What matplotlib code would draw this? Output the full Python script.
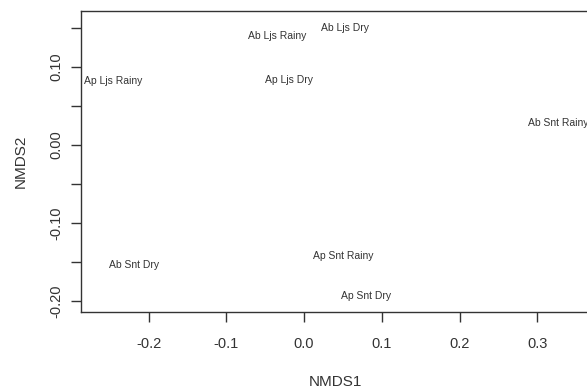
import matplotlib.pyplot as plt

# NMDS site scores
sites = ["Ap Ljs Rainy", "Ab Ljs Rainy", "Ab Ljs Dry", "Ap Ljs Dry",
         "Ab Snt Rainy", "Ab Snt Dry", "Ap Snt Rainy", "Ap Snt Dry"]
nmds1 = [-0.246, -0.035, 0.053, -0.019, 0.327, -0.219, 0.051, 0.080]
nmds2 = [0.082, 0.140, 0.150, 0.083, 0.028, -0.154, -0.142, -0.194]

x_ticks = [-0.2, -0.1, 0.0, 0.1, 0.2, 0.3]
x_tick_labels = ["-0.2", "-0.1", "0.0", "0.1", "0.2", "0.3"]
y_ticks = [-0.20, -0.15, -0.10, -0.05, 0.00, 0.05, 0.10, 0.15]
y_tick_labels = ["-0.20", "", "-0.10", "", "0.00", "", "0.10", ""]

plt.rcParams["font.family"] = ["Liberation Sans", "DejaVu Sans"]
ink = "#333333"

fig = plt.figure(figsize=(5.87, 3.87), dpi=100)
ax = fig.add_axes([0.138, 0.194, 0.866, 0.778])

for name, x, y in zip(sites, nmds1, nmds2):
    ax.text(x, y, name, ha="center", va="center", fontsize=7.5, color=ink)

ax.set_xlim(-0.287, 0.367)
ax.set_ylim(-0.214, 0.172)

ax.set_xticks(x_ticks)
ax.set_xticklabels(x_tick_labels)
ax.set_yticks(y_ticks)
ax.set_yticklabels(y_tick_labels, rotation=90, va="center")

ax.tick_params(axis="both", direction="out", length=7, width=1, color=ink,
               labelsize=10.5, labelcolor=ink)
ax.tick_params(axis="x", pad=11)
ax.tick_params(axis="y", pad=6)
ax.spines["right"].set_visible(False)
for side in ["left", "bottom", "top"]:
    ax.spines[side].set_color(ink)
    ax.spines[side].set_linewidth(1)

ax.set_xlabel("NMDS1", fontsize=11, color=ink, labelpad=17)
ax.set_ylabel("NMDS2", fontsize=11, color=ink, labelpad=15)

fig.savefig("out.png", dpi=100)
